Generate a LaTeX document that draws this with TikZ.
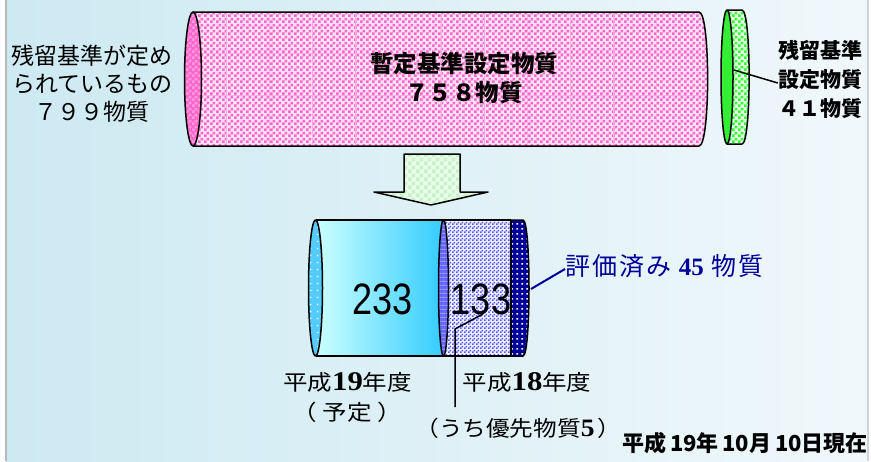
\documentclass[tikz,border=0pt]{standalone}
\usepackage{fontspec}
\setmainfont{Liberation Serif}
\newfontfamily\jp{Noto Sans CJK JP}
\newfontfamily\jpe[LetterSpace=8]{Noto Sans CJK JP}
\newfontfamily\arialf{Liberation Sans}
\usetikzlibrary{patterns.meta}

\definecolor{bgL}{HTML}{CDE9F2}
\definecolor{bgR}{HTML}{F0F8FB}
\definecolor{pinkD}{HTML}{FF66CC}
\definecolor{pinkL}{HTML}{FFE2F5}
\definecolor{pinkM}{HTML}{FF99DD}
\definecolor{grnD}{HTML}{33FF33}
\definecolor{grnL}{HTML}{E2FFE2}
\definecolor{grnE}{HTML}{33EE33}
\definecolor{arrL}{HTML}{E8FBE8}
\definecolor{arrD}{HTML}{C8F2C8}
\definecolor{cyanL}{HTML}{CCFFFF}
\definecolor{cyanD}{HTML}{33CCFF}
\definecolor{cyanE}{HTML}{55CCFF}
\definecolor{purp}{HTML}{6666FF}
\definecolor{purpL}{HTML}{9999FF}
\definecolor{chkBg}{HTML}{EEF0FF}
\definecolor{chkFg}{HTML}{5555FF}
\definecolor{navy}{HTML}{000099}

\tikzdeclarepattern{
  name=chkA, type=uncolored,
  bounding box={(0pt,0pt) and (6pt,6pt)},
  tile size={(6pt,6pt)},
  code={\fill (0pt,0pt) rectangle (3pt,3pt); \fill (3pt,3pt) rectangle (6pt,6pt);}
}
\tikzdeclarepattern{
  name=chkB, type=uncolored,
  bounding box={(0pt,0pt) and (8pt,8pt)},
  tile size={(8pt,8pt)},
  code={\fill (0pt,0pt) rectangle (4pt,4pt); \fill (4pt,4pt) rectangle (8pt,8pt);}
}
\tikzdeclarepattern{
  name=sqdots, type=uncolored,
  bounding box={(0pt,0pt) and (5pt,5pt)},
  tile size={(5pt,5pt)},
  code={\fill (1.5pt,1.5pt) rectangle (3.5pt,3.5pt);}
}
\tikzdeclarepattern{
  name=latdots, type=uncolored,
  bounding box={(0pt,0pt) and (4pt,4pt)},
  tile size={(4pt,4pt)},
  code={\fill (0pt,0pt) rectangle (2pt,2pt); \fill (2pt,2pt) rectangle (4pt,4pt);}
}
\tikzdeclarepattern{
  name=sparse, type=uncolored,
  bounding box={(0pt,0pt) and (7pt,7pt)},
  tile size={(7pt,7pt)},
  code={\fill (2pt,2pt) rectangle (3.6pt,3.6pt);}
}

\tikzset{
  outl/.style={line width=1.5pt, draw=black},
  jplabel/.style={font=\jp\fontsize{#1}{28}\selectfont, align=center, inner sep=0pt},
  jpbold/.style={font=\jp\bfseries\fontsize{#1}{29}\selectfont, align=center, inner sep=0pt},
  yearlabel/.style={font=\jp\fontsize{21.5}{30}\selectfont, xscale=1.14, inner sep=0pt},
  leader/.style={line width=1.5pt},
}

\begin{document}
\begin{tikzpicture}[x=1pt,y=-1pt, line join=round]
\useasboundingbox (0,0) rectangle (871,461);
\fill[white] (0,0) rectangle (871,461);
\shade[left color=bgL, right color=bgR] (6,0) rectangle (867,461);
\draw[gray!55, line width=1.2pt] (6,0) -- (6,461);
\draw[gray!35, line width=1.5pt] (868,0) -- (868,461);

% ---------- upper pink cylinder ----------
\path[preaction={fill=pinkL}, pattern=chkA, pattern color=pinkD]
  (193,12) -- (699,12) .. controls (710.5,12) and (710.5,146) .. (699,146) -- (193,146) -- cycle;
\foreach \gx in {226,269,312,355,398,441,484,527,570,613,656}
  \draw[pinkM!80!white, line width=0.8pt] (\gx,13) -- (\gx,145);
\foreach \gy in {53,95}
  \draw[pinkM!80!white, line width=0.8pt] (194,\gy) -- (704,\gy);
\draw[outl] (193,12) -- (699,12) .. controls (710.5,12) and (710.5,146) .. (699,146) -- (193,146);
\draw[outl, preaction={fill=pinkD}, pattern=chkA, pattern color=pinkM]
  (193,79) ellipse[x radius=8.5, y radius=67];

% ---------- green disk ----------
\path[preaction={fill=grnL}, pattern=chkA, pattern color=grnD]
  (727,10) -- (742,10) .. controls (751.5,10) and (751.5,144) .. (742,144) -- (727,144) -- cycle;
\draw[outl] (727,10) -- (742,10) .. controls (751.5,10) and (751.5,144) .. (742,144) -- (727,144);
\draw[outl, fill=grnE] (727,77) ellipse[x radius=6, y radius=67];
\coordinate (gpt) at (734,70);

% ---------- block arrow ----------
\draw[outl, preaction={fill=arrL}, pattern=chkB, pattern color=arrD]
  (404,154) -- (460,154) -- (460,192) -- (488,192) -- (431,205) -- (374,192) -- (404,192) -- cycle;

% ---------- lower cylinder ----------
\draw[outl, preaction={fill=navy}, pattern=sqdots, pattern color=white]
  (511,220) -- (523,220) .. controls (531,220) and (531,356) .. (523,356) -- (511,356) -- cycle;
\path[preaction={fill=chkBg}, pattern=latdots, pattern color=chkFg]
  (444,220) rectangle (511,356);
\shade[left color=cyanL, right color=cyanD] (315.5,220) rectangle (443.5,356);
\draw[outl] (315.5,220) -- (511,220);
\draw[outl] (315.5,356) -- (511,356);
\draw[outl] (511,220) -- (511,356);
\draw[outl, preaction={fill=purp}, pattern={Lines[angle=0,distance=4pt,line width=1.2pt]}, pattern color=purpL]
  (443.5,288) ellipse[x radius=5, y radius=68];
\draw[outl, preaction={fill=cyanE}, pattern=sparse, pattern color=white]
  (315.5,288) ellipse[x radius=7, y radius=68];

\node[font=\arialf\fontsize{44}{44}\selectfont, xscale=0.82, inner sep=0pt] (n233) at (382.5,299) {233};
\node[font=\arialf\fontsize{44}{44}\selectfont, xscale=0.82, inner sep=0pt] (n133) at (481,299) {133};

\coordinate (c133) at (483,314);
\coordinate (bend) at (455,329);
\coordinate (vend) at (455,407);
\coordinate (navypt) at (531,289);

% ---------- texts ----------
\node[jplabel=23] (left) at (92.5,84) {残留基準が定め\\られているもの\\７９９物質};
\node[jpbold=23.5] (mid) at (464,78) {暫定基準設定物質\\７５８物質};
\node[jpbold=21] (right) at (820,79) {残留基準\\設定物質\\４１物質};

\node[font=\jpe\fontsize{25}{28}\selectfont, text=navy, inner sep=0pt, anchor=west] (eval) at (565,266)
  {評価済み {\rmfamily\bfseries 45} 物質};

\node[yearlabel] (y19) at (347.5,382)
  {平成{\rmfamily\bfseries\fontsize{27}{30}\selectfont 19}年度};
\node[yearlabel] (yotei) at (347.5,412) {（\hspace{5pt}予定\hspace{5pt}）};
\node[yearlabel] (y18) at (527,382)
  {平成{\rmfamily\bfseries\fontsize{27}{30}\selectfont 18}年度};
\node[font=\jp\fontsize{21.5}{30}\selectfont, xscale=1.1, inner sep=0pt] (uchi) at (518.5,428)
  {（うち優先物質{\rmfamily\bfseries\fontsize{25}{30}\selectfont 5}\hspace{3pt}）};

\node[font=\jp\bfseries\fontsize{22}{26}\selectfont, inner sep=0pt, anchor=east] (date) at (868,443)
  {平成\,19年\,10月\,10日現在};

% ---------- leaders ----------
\draw[leader] (gpt) -- (right.west |- 0,83);
\draw[leader] (c133) -- (bend) -- (vend);
\draw[leader, navy, line width=2pt] (navypt) -- (eval.west |- 0,269);
\end{tikzpicture}
\end{document}
